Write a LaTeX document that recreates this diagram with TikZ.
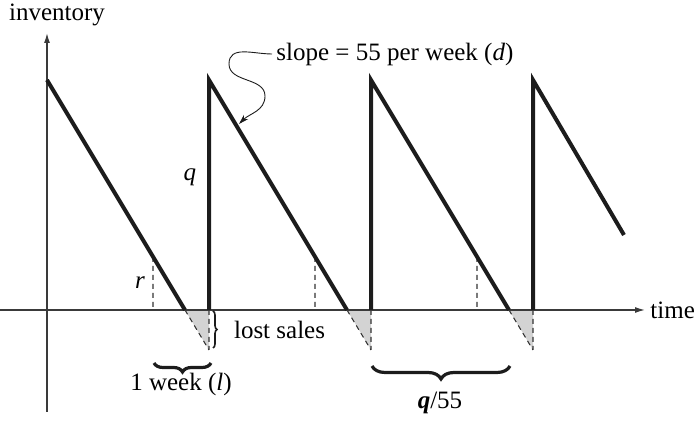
\documentclass[tikz,border=0pt]{standalone}
\usepackage{fontspec}
\setmainfont{Liberation Serif}
\usetikzlibrary{arrows.meta,positioning,calc,decorations.pathreplacing}
\definecolor{ink}{HTML}{1C1C1C}
\definecolor{axisgray}{HTML}{3A3A3A}
\definecolor{lostgray}{HTML}{D3D3D3}

\begin{document}
\begin{tikzpicture}[x=0.5pt,y=0.5pt,font=\fontsize{12.5}{15}\selectfont,
    axis/.style={line width=0.65pt,draw=axisgray,-{Latex[length=5pt,width=3pt]}},
    saw/.style={line width=2pt,draw=ink,miter limit=20},
    guide/.style={line width=0.55pt,draw=ink!90,dash pattern=on 2.5pt off 2pt},
    brc/.style={decorate,decoration={brace,amplitude=#1},line width=1.6pt,draw=ink}]
  \useasboundingbox (-47,-112) rectangle (650,310);
  % points of the saw: top, stock-out, arrival, bottom of lost sales, reorder
  \foreach \k in {0,1,2,3} {
    \coordinate (top\k) at (162*\k,230);
    \coordinate (out\k) at (162*\k+138,0);
    \coordinate (arr\k) at (162*\k+162,0);
    \coordinate (low\k) at (162*\k+162,-40);
    \coordinate (rr\k)  at (162*\k+106,53);
    \coordinate (rb\k)  at (162*\k+106,0);
  }
  \coordinate (end) at (577,75);
  \foreach \k in {0,1,2} {
    \fill[lostgray] (out\k) -- (arr\k) -- (low\k) -- cycle;
    \draw[guide] (out\k) -- (low\k) (arr\k) -- (low\k) (rr\k) -- (rb\k);
  }
  % axes
  \coordinate (xs) at (-47,0);
  \coordinate (xe) at (598,0);
  \coordinate (ys) at (0,-102);
  \coordinate (ye) at (0,277);
  \draw[axis] (xs) -- (xe);
  \draw[axis] (ys) -- (ye);
  \node[anchor=west,inner sep=0pt] (xlab) at (603,0) {time};
  \node (ylab) at (10,295) {inventory};
  % saw teeth
  \draw[saw] (top0) -- (out0);
  \draw[saw] (arr0) -- (top1) -- (out1);
  \draw[saw] (arr1) -- (top2) -- (out2);
  \draw[saw] (arr2) -- (top3) -- (end);
  \node (qlab) at (143,133) {\textit{q}};
  \node (rlab) at (93,27) {\textit{r}};
  % braces
  \draw[brc=2pt,line width=0.8pt] (166,-1) -- (166,-38);
  \node[anchor=west] (lost) at (180,-20) {lost sales};
  \draw[brc=4.5pt] (164,-53) -- (107,-53);
  \node (wk) at (134,-74) {1 week (\textit{l})};
  \draw[brc=6.5pt] (463,-56) -- (325,-56);
  \node (qd) at (393,-93) {\textbf{\textit{q}}/55};
  % slope label with curly pointer
  \node[anchor=west,inner sep=2pt] (slope) at (225,256) {slope = 55 per week (\textit{d})};
  \coordinate (hit) at (192,186);
  \draw[line width=0.45pt,draw=ink,-{Stealth[length=5pt,width=3pt]}]
    (slope.west) to[out=180,in=90,looseness=1.1] (182,246)
    to[out=-90,in=90] (218,214) to[out=-90,in=45] (hit);
\end{tikzpicture}
\end{document}
